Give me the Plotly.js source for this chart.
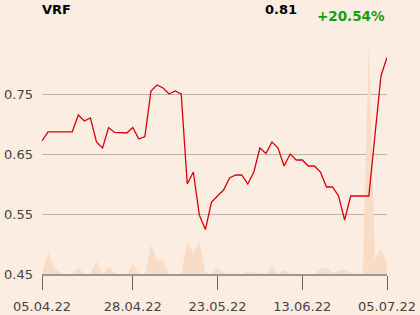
<!DOCTYPE html>
<html>
<head>
<meta charset="utf-8">
<script src="https://cdn.plot.ly/plotly-3.0.1.min.js"></script>
<style>
  html, body { margin: 0; padding: 0; background: #fbede1; }
  #chart { width: 420px; height: 315px; }
</style>
</head>
<body>
<div id="chart"></div>
<script>
// Trading-day index (58 sessions from 05.04.22 to 05.07.22)
const dayIndex = Array.from({length: 58}, (_, i) => i);

// Closing prices
const prices = [
  0.672, 0.687, 0.687, 0.687, 0.687, 0.687, 0.715, 0.705, 0.710, 0.670,
  0.660, 0.694, 0.686, 0.685, 0.685, 0.694, 0.675, 0.679, 0.755, 0.765,
  0.760, 0.750, 0.755, 0.750, 0.600, 0.620, 0.548, 0.524, 0.570, 0.580,
  0.590, 0.610, 0.615, 0.615, 0.600, 0.620, 0.660, 0.651, 0.670, 0.660,
  0.630, 0.650, 0.640, 0.640, 0.630, 0.630, 0.620, 0.595, 0.595, 0.580,
  0.540, 0.580, 0.580, 0.580, 0.580, 0.680, 0.780, 0.811
];

// Relative traded volume (arbitrary units, read from the background area)
const volumes = [
  0, 22, 6.3, 1.3, 0, 0, 6.3, 0, 0, 12.7,
  0, 7, 1.3, 0, 0, 10.7, 0, 0, 29.3, 13.7,
  13, 0, 0, 0, 33, 20.7, 32, 1.3, 0, 6.3,
  1, 0.3, 0.7, 0, 2.3, 1, 1.3, 0, 6.7, 0.3,
  4, 0.5, 0, 0, 0, 0, 4.7, 6.3, 1.3, 2.7,
  4.7, 1.3, 0, 0, 234.5, 14.5, 25.5, 11.5
];

// Axis ticks
const xTickIdx = [0, 15, 29, 43, 57];
const xTickText = ["05.04.22", "28.04.22", "23.05.22", "13.06.22", "05.07.22"];
const yTickVals = [0.45, 0.55, 0.65, 0.75];
const yTickText = ["0.45", "0.55", "0.65", "0.75"];

const symbol = "VRF";
const lastPrice = "0.81";
const changePct = "+20.54%";

const bg = "#fbede1";

const traces = [
  {
    x: dayIndex, y: volumes, type: "scatter", mode: "lines",
    fill: "tozeroy", fillcolor: "#f8dcc6",
    line: {width: 0, color: "#f8dcc6"},
    yaxis: "y", hoverinfo: "skip"
  },
  {
    x: dayIndex, y: prices, type: "scatter", mode: "lines",
    line: {color: "#d9000d", width: 1.3},
    yaxis: "y2"
  }
];

const font = {family: "DejaVu Sans, sans-serif", size: 13, color: "#444"};

const layout = {
  width: 420, height: 315,
  margin: {l: 42, r: 33, t: 34, b: 41, pad: 0},
  paper_bgcolor: bg, plot_bgcolor: bg,
  showlegend: false,
  font: font,
  xaxis: {
    range: [0, 57], type: "linear",
    tickmode: "array", tickvals: xTickIdx, ticktext: xTickText,
    ticks: "outside", ticklen: 14, tickcolor: "#666", tickwidth: 1,
    ticklabelstandoff: 6,
    showline: true, linecolor: "#999", linewidth: 1.5,
    showgrid: false, zeroline: false,
    tickfont: font, fixedrange: true
  },
  yaxis: {
    range: [0, 240], visible: false, showgrid: false, zeroline: false, fixedrange: true
  },
  yaxis2: {
    overlaying: "y", side: "left",
    range: [0.45, 0.85],
    tickmode: "array", tickvals: yTickVals, ticktext: yTickText,
    showgrid: true, gridcolor: "#b5b5b5", gridwidth: 1,
    zeroline: false, showline: false, ticks: "",
    ticklabelstandoff: 8,
    tickfont: font, fixedrange: true
  },
  annotations: [
    {text: "<b>" + symbol + "</b>", xref: "paper", yref: "paper",
     x: -0.006, y: 1.104, xanchor: "left", yanchor: "middle", showarrow: false,
     font: {family: "DejaVu Sans, sans-serif", size: 13, color: "#000"}},
    {text: "<b>" + lastPrice + "</b>", xref: "paper", yref: "paper",
     x: 0.745, y: 1.104, xanchor: "right", yanchor: "middle", showarrow: false,
     font: {family: "DejaVu Sans, sans-serif", size: 13, color: "#000"}},
    {text: "<b>" + changePct + "</b>", xref: "paper", yref: "paper",
     x: 1.0, y: 1.075, xanchor: "right", yanchor: "middle", showarrow: false,
     font: {family: "DejaVu Sans, sans-serif", size: 13.5, color: "#14a014"}}
  ]
};

Plotly.newPlot("chart", traces, layout, {staticPlot: true, displayModeBar: false});
</script>
</body>
</html>
